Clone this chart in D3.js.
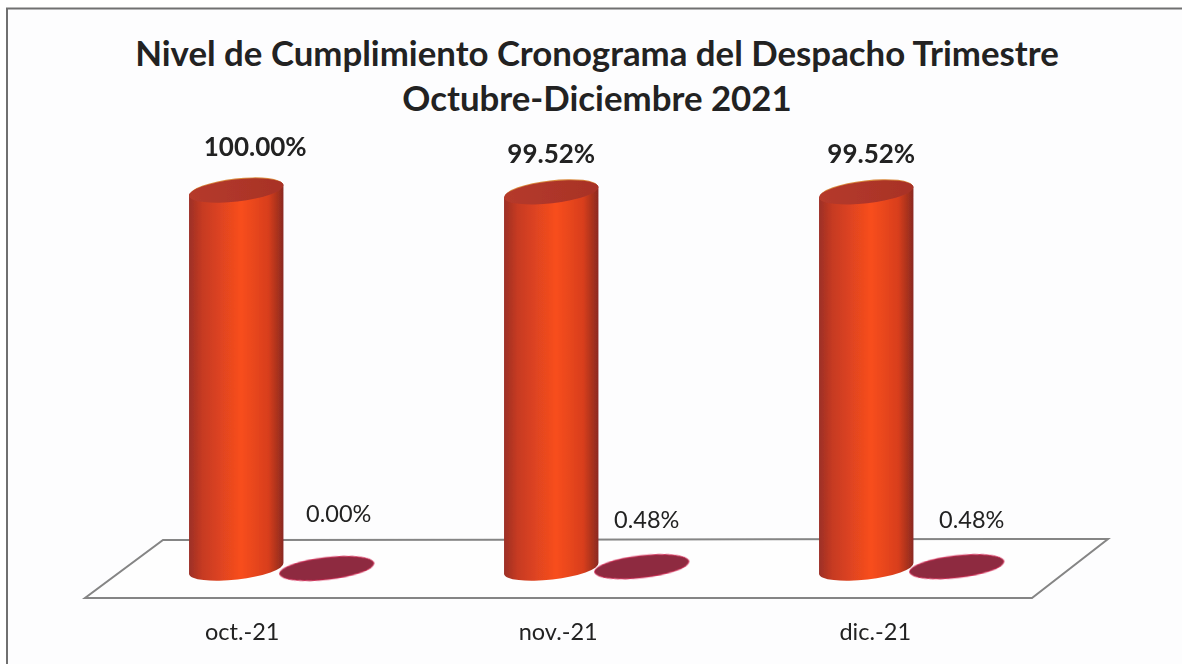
<!DOCTYPE html>
<html lang="en">
<head>
<meta charset="utf-8">
<title>Nivel de Cumplimiento</title>
<script src="https://d3js.org/d3.v7.min.js"></script>
<style>
body { margin: 0; background: #fff; overflow: hidden; }
svg { display: block; }
text { font-family: Lato, "Open Sans", sans-serif; fill: #222; }
</style>
</head>
<body>
<script type="text/javascript">
var w = 1182;
var h = 664;

var meses = ["oct.-21", "nov.-21", "dic.-21"];
var cumplido = [100.00, 99.52, 99.52];
var noCumplido = [0.00, 0.48, 0.48];
var titulo = ["Nivel de Cumplimiento Cronograma del Despacho Trimestre", "Octubre-Diciembre 2021"];

var xScale = d3.scaleBand().domain(meses).range([124, 1069]);
var yScale = d3.scaleLinear().domain([0, 100]).range([568.5, 190.5]);

// the two series sit side by side in each month
var serieScale = d3.scaleBand().domain([0, 1]).range([0, xScale.bandwidth()]).paddingOuter(0.74);

var rx = 47.5, ry = 11, tilt = -6.5;

var svg = d3.select("body").append("svg").attr("width", w).attr("height", h);
var defs = svg.append("defs");

var grad = defs.append("linearGradient").attr("id", "cil");
grad.append("stop").attr("offset", "0%").attr("stop-color", "#9c3026");
grad.append("stop").attr("offset", "14%").attr("stop-color", "#c63a22");
grad.append("stop").attr("offset", "55%").attr("stop-color", "#f84e1e");
grad.append("stop").attr("offset", "84%").attr("stop-color", "#d83e1e");
grad.append("stop").attr("offset", "100%").attr("stop-color", "#8a2a20");

var gradTapa = defs.append("linearGradient").attr("id", "tapa");
gradTapa.append("stop").attr("offset", "0%").attr("stop-color", "#b53a2c");
gradTapa.append("stop").attr("offset", "100%").attr("stop-color", "#a83226");

// scan softness on the marks
defs.append("filter").attr("id", "suave")
    .attr("x", "-5%").attr("y", "-5%").attr("width", "110%").attr("height", "110%")
    .append("feGaussianBlur").attr("stdDeviation", 0.6);

// frame, the right and bottom edges fall outside the picture
svg.append("rect")
   .attr("x", 7).attr("y", 8.5)
   .attr("width", 1300).attr("height", 800)
   .attr("fill", "#fdfdfe")
   .attr("stroke", "#707070")
   .attr("stroke-width", 2)
   .attr("filter", "url(#suave)");

// title
svg.selectAll(".titulo")
   .data(titulo)
   .enter()
   .append("text")
   .attr("class", "titulo")
   .attr("x", 597)
   .attr("y", function (d, i) { return 66 + i * 45; })
   .attr("text-anchor", "middle")
   .attr("font-size", "34.8px")
   .attr("font-weight", "700")
   .text(function (d) { return d; });

// floor
var piso = [[85, 598], [1032, 598], [1108, 539], [163, 540]];
svg.append("path")
   .attr("d", d3.line()(piso) + "Z")
   .attr("fill", "#fefefe")
   .attr("stroke", "#858585")
   .attr("stroke-width", 2)
   .attr("filter", "url(#suave)");

function cx(mes, serie) {
  return xScale(mes) + serieScale(serie) + serieScale.bandwidth() / 2;
}

// one tilted cylinder
function cilindro(g, x, yTop, yBase, fillBody) {
  var t = tilt * Math.PI / 180;
  var dx = rx * Math.cos(t), dy = rx * Math.sin(t);
  var body = "M" + (x - dx) + "," + (yTop - dy)
    + "L" + (x - dx) + "," + (yBase - dy)
    + "A" + rx + "," + ry + "," + tilt + ",0,0," + (x + dx) + "," + (yBase + dy)
    + "L" + (x + dx) + "," + (yTop + dy)
    + "A" + rx + "," + ry + "," + tilt + ",0,0," + (x - dx) + "," + (yTop - dy) + "Z";
  g.append("path").attr("d", body).attr("fill", fillBody);
  // orange rim, then the lid
  g.append("ellipse")
   .attr("transform", "translate(" + x + "," + (yTop - 1) + ") rotate(" + tilt + ")")
   .attr("rx", rx - 1).attr("ry", ry)
   .attr("fill", "#d98a3e");
  g.append("ellipse")
   .attr("transform", "translate(" + x + "," + yTop + ") rotate(" + tilt + ")")
   .attr("rx", rx).attr("ry", ry)
   .attr("fill", "url(#tapa)");
}

// label nudges
var dxCumplido = [19, 0, 5];
var dxNoCumplido = [12, 5, 15];
var dxMes = [6, 7, 9];

meses.forEach(function (m, i) {
  var g = svg.append("g").attr("filter", "url(#suave)");
  cilindro(g, cx(m, 0), yScale(cumplido[i]), yScale(0), "url(#cil)");
  g.append("ellipse")
   .attr("transform", "translate(" + cx(m, 1) + "," + yScale(noCumplido[i]) + ") rotate(" + tilt + ")")
   .attr("rx", rx).attr("ry", ry)
   .attr("fill", "#8e2a40")
   .attr("stroke", "#d81f4e")
   .attr("stroke-width", 0.8);

  svg.append("text")
     .attr("x", cx(m, 0) + dxCumplido[i])
     .attr("y", i === 0 ? 156 : 163)
     .attr("text-anchor", "middle")
     .attr("font-size", "26px")
     .attr("font-weight", "700")
     .text(d3.format(".2f")(cumplido[i]) + "%");

  svg.append("text")
     .attr("x", cx(m, 1) + dxNoCumplido[i])
     .attr("y", i === 0 ? 522 : 528)
     .attr("text-anchor", "middle")
     .attr("font-size", "23.5px")
     .text(d3.format(".2f")(noCumplido[i]) + "%");

  svg.append("text")
     .attr("x", cx(m, 0) + dxMes[i])
     .attr("y", 640)
     .attr("text-anchor", "middle")
     .attr("font-size", "23.5px")
     .text(m);
});
</script>
</body>
</html>
